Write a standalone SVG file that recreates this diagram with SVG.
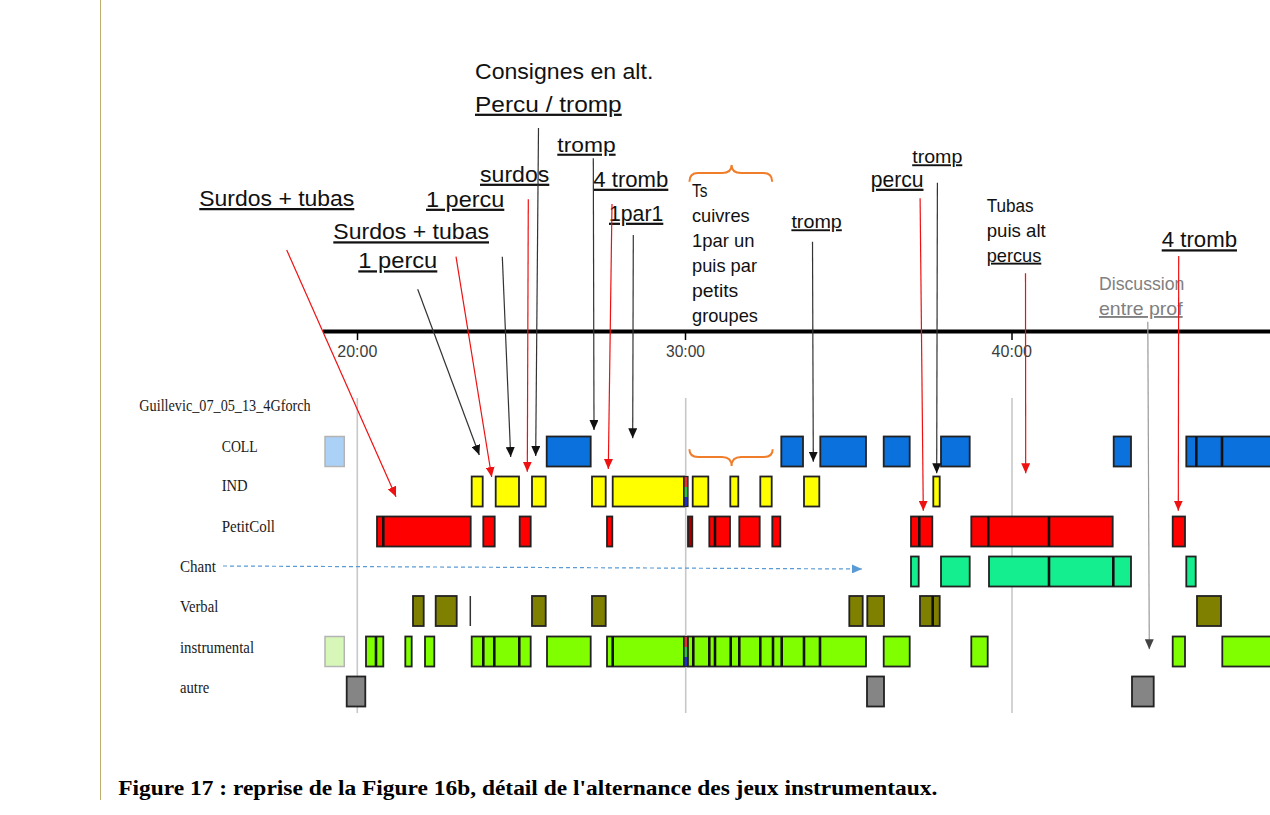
<svg xmlns="http://www.w3.org/2000/svg" width="1270" height="815" viewBox="0 0 1270 815">
<style>
.lbl{font-family:"Liberation Sans",Arial,sans-serif;fill:#111}
.u{text-decoration:underline}
.big{font-size:22.5px}
.mid{font-size:19px}
.gry{fill:#808080}
.row{font-family:"Liberation Serif","Times New Roman",serif;font-size:17.5px;fill:#1a1a1a}
.time{font-family:"Liberation Sans",Arial,sans-serif;font-size:16px;fill:#3c3c3c}
.cap{font-family:"Liberation Serif","Times New Roman",serif;font-weight:bold;font-size:20px;fill:#000}
.grid{stroke:#c8c8c8;stroke-width:1.6}
.b{stroke:#222;stroke-width:1.8}
.coll{fill:#0b71dc}
.ind{fill:#ffff00}
.pc{fill:#ff0000}
.dr{fill:#a00000}
.ch{fill:#14ee8e}
.vb{fill:#808000}
.in{fill:#80ff00}
.au{fill:#858585}
.div{stroke:#111;stroke-width:2.6}
.ak{stroke:#333;stroke-width:1.2;fill:none}
.ar{stroke:#ee1111;stroke-width:1.2;fill:none}
.ag{stroke:#9a9a9a;stroke-width:1.2;fill:none}
.brace{stroke:#f07d2a;stroke-width:2;fill:none}
</style>
<defs>
<marker id="ahK" markerUnits="userSpaceOnUse" markerWidth="10" markerHeight="9" refX="10" refY="4.5" orient="auto"><path d="M0,0 L10,4.5 L0,9 z" fill="#111"/></marker>
<marker id="ahR" markerUnits="userSpaceOnUse" markerWidth="10" markerHeight="9" refX="10" refY="4.5" orient="auto"><path d="M0,0 L10,4.5 L0,9 z" fill="#ee1111"/></marker>
<marker id="ahG" markerUnits="userSpaceOnUse" markerWidth="10" markerHeight="9" refX="10" refY="4.5" orient="auto"><path d="M0,0 L10,4.5 L0,9 z" fill="#444"/></marker>
<marker id="ahB" markerUnits="userSpaceOnUse" markerWidth="10" markerHeight="9" refX="10" refY="4.5" orient="auto"><path d="M0,0 L10,4.5 L0,9 z" fill="#5b9bd5"/></marker>
</defs>
<rect width="1270" height="815" fill="#fff"/>
<line x1="100.5" y1="0" x2="100.5" y2="800" stroke="#bfae70" stroke-width="1"/>

<g id="axis">
<line x1="323" y1="331.5" x2="1270" y2="331.5" stroke="#000" stroke-width="4"/>
<line x1="357.5" y1="331" x2="357.5" y2="340" stroke="#000" stroke-width="1.5"/>
<line x1="685.5" y1="331" x2="685.5" y2="340" stroke="#000" stroke-width="1.5"/>
<line x1="1012" y1="331" x2="1012" y2="340" stroke="#000" stroke-width="1.5"/>
<text class="time" x="337.3" y="356.7" textLength="40" lengthAdjust="spacingAndGlyphs">20:00</text>
<text class="time" x="666" y="356.7" textLength="39" lengthAdjust="spacingAndGlyphs">30:00</text>
<text class="time" x="991.6" y="356.7" textLength="40.3" lengthAdjust="spacingAndGlyphs">40:00</text>
<line class="grid" x1="357.3" y1="398" x2="357.3" y2="713"/>
<line class="grid" x1="685.7" y1="398" x2="685.7" y2="713"/>
<line class="grid" x1="1012" y1="398" x2="1012" y2="713"/>
</g>

<g id="row-labels">
<text class="row" x="139.3" y="410.7" textLength="171.4" lengthAdjust="spacingAndGlyphs">Guillevic_07_05_13_4Gforch</text>
<text class="row" x="221.7" y="451.7" textLength="36" lengthAdjust="spacingAndGlyphs">COLL</text>
<text class="row" x="221.7" y="491.3" textLength="26" lengthAdjust="spacingAndGlyphs">IND</text>
<text class="row" x="221.7" y="531.7" textLength="53.3" lengthAdjust="spacingAndGlyphs">PetitColl</text>
<text class="row" x="180" y="571.7" textLength="36" lengthAdjust="spacingAndGlyphs">Chant</text>
<text class="row" x="180" y="611.7" textLength="38.3" lengthAdjust="spacingAndGlyphs">Verbal</text>
<text class="row" x="180" y="653.3" textLength="74" lengthAdjust="spacingAndGlyphs">instrumental</text>
<text class="row" x="180" y="693.3" textLength="29.3" lengthAdjust="spacingAndGlyphs">autre</text>
</g>

<g id="row-COLL">
<rect x="325" y="436.5" width="19.3" height="30" fill="#abd1f6" stroke="#b4b4b4" stroke-width="1.5"/>
<rect class="b coll" x="546.7" y="436.5" width="44" height="30"/>
<rect class="b coll" x="781.3" y="436.5" width="21.7" height="30"/>
<rect class="b coll" x="820.3" y="436.5" width="45.7" height="30"/>
<rect class="b coll" x="883.7" y="436.5" width="26" height="30"/>
<rect class="b coll" x="941" y="436.5" width="28.7" height="30"/>
<rect class="b coll" x="1113.7" y="436.5" width="17.3" height="30"/>
<rect class="b coll" x="1186.3" y="436.5" width="90" height="30"/>
<line class="div" x1="1196.3" y1="436.5" x2="1196.3" y2="466.5"/>
<line class="div" x1="1222" y1="436.5" x2="1222" y2="466.5"/>
</g>

<g id="row-IND">
<rect class="b ind" x="471.7" y="476.5" width="11" height="30"/>
<rect class="b ind" x="495.7" y="476.5" width="23.3" height="30"/>
<rect class="b ind" x="532" y="476.5" width="13.7" height="30"/>
<rect class="b ind" x="592" y="476.5" width="13.7" height="30"/>
<rect class="b ind" x="612.7" y="476.5" width="71.3" height="30"/>
<rect x="684" y="477" width="4" height="10" fill="#e03030"/>
<rect x="684" y="487" width="4" height="10" fill="#30c040"/>
<rect x="684" y="497" width="4" height="10" fill="#2030c0"/>
<rect x="684" y="476.5" width="4" height="30" fill="none" stroke="#222" stroke-width="1.2"/>
<rect class="b ind" x="692.7" y="476.5" width="15.6" height="30"/>
<rect class="b ind" x="730.3" y="476.5" width="8" height="30"/>
<rect class="b ind" x="760.3" y="476.5" width="11.4" height="30"/>
<rect class="b ind" x="804" y="476.5" width="15.3" height="30"/>
<rect class="b ind" x="933.3" y="476.5" width="6.4" height="30"/>
</g>

<g id="row-PetitColl">
<rect class="b pc" x="377" y="516.5" width="93.7" height="30"/>
<line class="div" x1="383.3" y1="516.5" x2="383.3" y2="546.5"/>
<rect class="b pc" x="483.3" y="516.5" width="11.4" height="30"/>
<rect class="b pc" x="519.7" y="516.5" width="11" height="30"/>
<rect class="b pc" x="607" y="516.5" width="5.3" height="30"/>
<rect class="b dr" x="688" y="516.5" width="4.3" height="30"/>
<rect class="b pc" x="709.3" y="516.5" width="20.7" height="30"/>
<line class="div" x1="715" y1="516.5" x2="715" y2="546.5"/>
<rect class="b pc" x="739.3" y="516.5" width="20.4" height="30"/>
<rect class="b pc" x="772.3" y="516.5" width="8" height="30"/>
<rect class="b pc" x="911" y="516.5" width="21.3" height="30"/>
<line class="div" x1="919.3" y1="516.5" x2="919.3" y2="546.5"/>
<rect class="b pc" x="971.3" y="516.5" width="141.4" height="30"/>
<line class="div" x1="988.3" y1="516.5" x2="988.3" y2="546.5"/>
<line class="div" x1="1049" y1="516.5" x2="1049" y2="546.5"/>
<rect class="b pc" x="1172.7" y="516.5" width="12.3" height="30"/>
</g>

<g id="row-Chant">
<rect class="b ch" x="911" y="556.5" width="7.7" height="30"/>
<rect class="b ch" x="941" y="556.5" width="28.7" height="30"/>
<rect class="b ch" x="989" y="556.5" width="142" height="30"/>
<line class="div" x1="1049" y1="556.5" x2="1049" y2="586.5"/>
<line class="div" x1="1113.3" y1="556.5" x2="1113.3" y2="586.5"/>
<rect class="b ch" x="1186.3" y="556.5" width="9.4" height="30"/>
</g>

<g id="row-Verbal">
<rect class="b vb" x="413" y="596" width="10.7" height="30"/>
<rect class="b vb" x="435.7" y="596" width="21" height="30"/>
<line x1="470.3" y1="596" x2="470.3" y2="626" stroke="#333" stroke-width="1.5"/>
<rect class="b vb" x="532" y="596" width="13.7" height="30"/>
<rect class="b vb" x="592" y="596" width="13.7" height="30"/>
<rect class="b vb" x="849.3" y="596" width="13.4" height="30"/>
<rect class="b vb" x="867.3" y="596" width="16.7" height="30"/>
<rect class="b vb" x="920" y="596" width="19.7" height="30"/>
<line class="div" x1="932.7" y1="596" x2="932.7" y2="626"/>
<rect class="b vb" x="1197" y="596" width="24" height="30"/>
</g>

<g id="row-instrumental">
<rect x="325" y="636.5" width="19.3" height="30" fill="#d6f7b8" stroke="#b4b4b4" stroke-width="1.5"/>
<rect class="b in" x="366" y="636.5" width="17.3" height="30"/>
<line class="div" x1="376" y1="636.5" x2="376" y2="666.5"/>
<rect class="b in" x="405.3" y="636.5" width="6.4" height="30"/>
<rect class="b in" x="425" y="636.5" width="9.3" height="30"/>
<rect class="b in" x="471.7" y="636.5" width="59" height="30"/>
<line class="div" x1="483.3" y1="636.5" x2="483.3" y2="666.5"/>
<line class="div" x1="494.3" y1="636.5" x2="494.3" y2="666.5"/>
<line class="div" x1="519.3" y1="636.5" x2="519.3" y2="666.5"/>
<rect class="b in" x="547" y="636.5" width="43.7" height="30"/>
<rect class="b in" x="607" y="636.5" width="77" height="30"/>
<line class="div" x1="612.7" y1="636.5" x2="612.7" y2="666.5"/>
<rect x="684" y="637" width="4" height="10" fill="#e03030"/>
<rect x="684" y="647" width="4" height="10" fill="#30c040"/>
<rect x="684" y="657" width="4" height="10" fill="#2030c0"/>
<rect x="684" y="636.5" width="4" height="30" fill="none" stroke="#222" stroke-width="1.2"/>
<rect class="b in" x="688" y="636.5" width="178" height="30"/>
<line class="div" x1="693.3" y1="636.5" x2="693.3" y2="666.5"/>
<line class="div" x1="709.3" y1="636.5" x2="709.3" y2="666.5"/>
<line class="div" x1="715" y1="636.5" x2="715" y2="666.5"/>
<line class="div" x1="730.7" y1="636.5" x2="730.7" y2="666.5"/>
<line class="div" x1="739.3" y1="636.5" x2="739.3" y2="666.5"/>
<line class="div" x1="760.3" y1="636.5" x2="760.3" y2="666.5"/>
<line class="div" x1="773" y1="636.5" x2="773" y2="666.5"/>
<line class="div" x1="781.7" y1="636.5" x2="781.7" y2="666.5"/>
<line class="div" x1="804" y1="636.5" x2="804" y2="666.5"/>
<line class="div" x1="820" y1="636.5" x2="820" y2="666.5"/>
<rect class="b in" x="883.7" y="636.5" width="26" height="30"/>
<rect class="b in" x="971.3" y="636.5" width="16.4" height="30"/>
<rect class="b in" x="1172.7" y="636.5" width="12.3" height="30"/>
<rect class="b in" x="1222.3" y="636.5" width="60" height="30"/>
</g>

<g id="row-autre">
<rect class="b au" x="346.7" y="676.5" width="18.6" height="30"/>
<rect class="b au" x="867" y="676.5" width="17" height="30"/>
<rect class="b au" x="1132" y="676.5" width="21.7" height="30"/>
</g>

<g id="braces">
<path class="brace" d="M689.4,181.7 Q689.4,173 698,173 L722,173 Q731.6,173 731.6,165 Q731.6,173 741,173 L763.5,173 Q772.2,173 772.2,181.7"/>
<path class="brace" d="M689.4,449.3 Q689.4,457 698,457 L722,457 Q731.6,457 731.6,466 Q731.6,457 741,457 L764,457 Q772.7,457 772.7,449.3"/>
</g>

<g id="annotations">
<text class="lbl big u" x="199.3" y="206" textLength="155" lengthAdjust="spacingAndGlyphs">Surdos + tubas</text>
<text class="lbl big u" x="426" y="206.7" textLength="78.3" lengthAdjust="spacingAndGlyphs">1 percu</text>
<text class="lbl big u" x="480" y="181.7" textLength="69.3" lengthAdjust="spacingAndGlyphs">surdos</text>
<text class="lbl big u" x="333.3" y="239.3" textLength="155.7" lengthAdjust="spacingAndGlyphs">Surdos + tubas</text>
<text class="lbl big u" x="358.3" y="268.3" textLength="79" lengthAdjust="spacingAndGlyphs">1 percu</text>
<text class="lbl big" x="475" y="79.3" textLength="178.3" lengthAdjust="spacingAndGlyphs">Consignes en alt.</text>
<text class="lbl big u" x="475" y="111.7" textLength="146.7" lengthAdjust="spacingAndGlyphs">Percu / tromp</text>
<text class="lbl u" style="font-size:21px" x="557.3" y="151.7" textLength="58.3" lengthAdjust="spacingAndGlyphs">tromp</text>
<text class="lbl big u" x="593.3" y="186.7" textLength="75" lengthAdjust="spacingAndGlyphs">4 tromb</text>
<text class="lbl big u" x="609" y="220.7" textLength="54.3" lengthAdjust="spacingAndGlyphs">1par1</text>
<text class="lbl mid" x="692" y="196.7" textLength="15.4" lengthAdjust="spacingAndGlyphs">Ts</text>
<text class="lbl mid" x="692" y="221.7" textLength="57.6" lengthAdjust="spacingAndGlyphs">cuivres</text>
<text class="lbl mid" x="692" y="246.7" textLength="62.5" lengthAdjust="spacingAndGlyphs">1par un</text>
<text class="lbl mid" x="692" y="271.7" textLength="65" lengthAdjust="spacingAndGlyphs">puis par</text>
<text class="lbl mid" x="692" y="296.7" textLength="46.3" lengthAdjust="spacingAndGlyphs">petits</text>
<text class="lbl mid" x="692" y="321.7" textLength="65.9" lengthAdjust="spacingAndGlyphs">groupes</text>
<text class="lbl mid u" x="791.4" y="228.3" textLength="50.4" lengthAdjust="spacingAndGlyphs">tromp</text>
<text class="lbl big u" x="870.8" y="186.7" textLength="52.7" lengthAdjust="spacingAndGlyphs">percu</text>
<text class="lbl mid u" x="912.2" y="163.3" textLength="50.1" lengthAdjust="spacingAndGlyphs">tromp</text>
<text class="lbl mid" x="986.7" y="211.7" textLength="47" lengthAdjust="spacingAndGlyphs">Tubas</text>
<text class="lbl mid" x="986.7" y="236.7" textLength="59" lengthAdjust="spacingAndGlyphs">puis alt</text>
<text class="lbl mid u" x="986.7" y="261.7" textLength="54.6" lengthAdjust="spacingAndGlyphs">percus</text>
<text class="lbl mid gry" x="1099" y="290" textLength="85.4" lengthAdjust="spacingAndGlyphs">Discussion</text>
<text class="lbl mid gry u" x="1099" y="315" textLength="83.6" lengthAdjust="spacingAndGlyphs">entre prof</text>
<text class="lbl big u" x="1161.7" y="247.3" textLength="75.3" lengthAdjust="spacingAndGlyphs">4 tromb</text>
</g>

<g id="connectors">
<line class="ar" x1="286.7" y1="250" x2="396" y2="496.7" marker-end="url(#ahR)"/>
<line class="ak" x1="417.7" y1="289.3" x2="479.3" y2="455" marker-end="url(#ahK)"/>
<line class="ar" x1="456" y1="256.7" x2="491.7" y2="477" marker-end="url(#ahR)"/>
<line class="ak" x1="502.3" y1="256.7" x2="510.7" y2="457" marker-end="url(#ahK)"/>
<line class="ar" x1="528.3" y1="199.3" x2="527.3" y2="471.7" marker-end="url(#ahR)"/>
<line class="ak" x1="538.5" y1="128" x2="535.7" y2="456" marker-end="url(#ahK)"/>
<line class="ak" x1="593.3" y1="158.3" x2="594" y2="430" marker-end="url(#ahK)"/>
<line class="ar" x1="612" y1="204" x2="608.3" y2="469" marker-end="url(#ahR)"/>
<line class="ak" x1="633.3" y1="235" x2="632.7" y2="438.3" marker-end="url(#ahK)"/>
<line class="ak" x1="812.5" y1="241.7" x2="813.3" y2="461.7" marker-end="url(#ahK)"/>
<line class="ar" x1="920.1" y1="198.3" x2="923.3" y2="510.7" marker-end="url(#ahR)"/>
<line class="ak" x1="937.4" y1="182.7" x2="936.7" y2="473.3" marker-end="url(#ahK)"/>
<line class="ar" x1="1025.5" y1="273.3" x2="1025.7" y2="473.3" marker-end="url(#ahR)"/>
<line class="ag" x1="1147.8" y1="321.7" x2="1149.3" y2="649.3" marker-end="url(#ahG)"/>
<line class="ar" x1="1178.7" y1="256" x2="1178.3" y2="510.7" marker-end="url(#ahR)"/>
<line x1="223" y1="566" x2="862" y2="569" stroke="#5b9bd5" stroke-width="1.2" stroke-dasharray="4,3" marker-end="url(#ahB)"/>
</g>

<text class="cap" x="118.3" y="795" textLength="819" lengthAdjust="spacingAndGlyphs">Figure 17 : reprise de la Figure 16b, détail de l'alternance des jeux instrumentaux.</text>
</svg>
